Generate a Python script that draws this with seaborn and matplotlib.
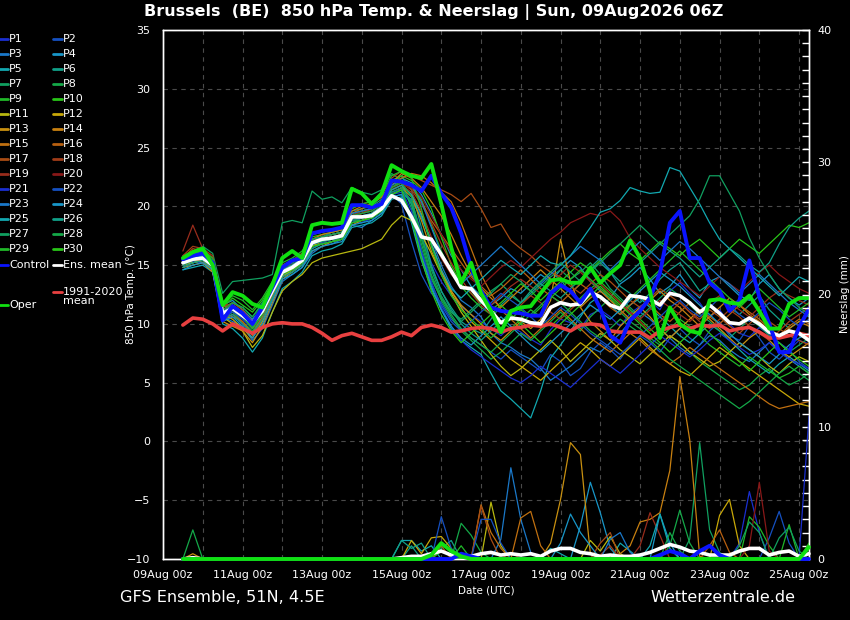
import numpy as np
import pandas as pd
import matplotlib
matplotlib.use("Agg")
import matplotlib.pyplot as plt
import matplotlib.dates as mdates
from matplotlib.lines import Line2D
from matplotlib.ticker import MultipleLocator, FixedLocator
import seaborn as sns

# ---------------- time axis (6-hourly steps, 09Aug 12z .. 25Aug 06z) -------------
times = pd.date_range("2026-08-09 12:00", periods=64, freq="6h")

# ---------------- 850 hPa temperature (deg C) ----------------
t_ctrl = [15.5, 15.8,
          16.0, 15.2, 10.3, 11.5,  10.9, 10.0, 11.4, 13.1,  14.8, 15.4, 15.6, 17.7,
          17.9, 18.0, 18.2, 20.1,  20.1, 19.9, 20.2, 22.2,  22.1, 21.8, 21.3, 22.6,
          21.1, 19.9, 17.7, 14.8,  12.8, 11.4, 11.1, 11.0,  10.9, 10.7, 10.7, 12.6,
          13.3, 12.8, 11.8, 13.0,  11.3, 9.0, 8.4, 10.3,    11.1, 12.2, 14.3, 18.6,
          19.6, 15.6, 15.6, 13.5,  12.8, 11.1, 12.0, 15.4,  12.3, 10.0, 7.6, 7.6,
          9.7, 11.3]
t_oper = [15.6, 16.1,
          16.4, 15.0, 11.6, 12.7,  12.4, 11.7, 11.4, 13.3,  15.6, 16.2, 15.6, 18.4,
          18.6, 18.5, 18.6, 21.5,  21.1, 20.2, 21.1, 23.5,  23.0, 22.6, 22.4, 23.6,
          20.2, 16.5, 13.5, 15.2,  12.6, 11.1, 9.3, 11.1,   11.4, 11.5, 12.6, 13.7,
          13.8, 13.5, 13.5, 14.8,  13.5, 14.3, 15.0, 17.1,  15.6, 12.8, 8.8, 11.4,
          10.0, 9.4, 9.2, 12.0,    12.1, 11.8, 11.7, 12.4,  11.1, 9.6, 9.6, 11.7,
          12.2, 12.2]
t_mean = [15.2, 15.5,
          15.6, 15.0, 10.9, 11.3,  10.7, 10.1, 11.1, 12.8,  14.4, 14.8, 15.4, 16.9,
          17.2, 17.3, 17.5, 19.1,  19.1, 19.2, 19.8, 20.9,  20.5, 19.1, 17.4, 17.2,
          15.9, 14.5, 13.1, 13.0,  12.0, 11.1, 10.1, 10.5,  10.4, 10.1, 10.0, 11.4,
          11.8, 11.6, 11.7, 12.7,  12.3, 11.6, 11.3, 12.4,  12.3, 12.1, 11.6, 12.6,
          12.4, 11.8, 11.0, 11.6,  10.9, 10.1, 10.0, 10.5,  10.0, 9.3, 9.0, 9.4,
          9.2, 8.6]
t_clim = [9.9, 10.5,
          10.4, 10.0, 9.4, 10.0,   9.6, 9.2, 9.7, 10.0,    10.1, 10.0, 10.0, 9.7,
          9.2, 8.6, 9.0, 9.2,      8.9, 8.6, 8.6, 8.9,     9.3, 9.0, 9.7, 9.9,
          9.7, 9.3, 9.4, 9.6,      9.7, 9.6, 9.3, 9.6,     9.7, 9.9, 9.8, 10.0,
          9.7, 9.4, 9.9, 10.0,     9.9, 9.4, 9.3, 9.3,     9.3, 8.8, 9.4, 9.7,
          9.9, 9.6, 9.9, 9.8,      9.9, 9.4, 9.6, 9.7,     9.3, 8.8, 8.8, 9.0,
          9.2, 9.0]

t_p01 = [15.0, 15.3, 15.2, 14.6, 10.2, 10.8, 10.0, 9.1, 10.3, 12.2, 14.0, 14.6, 15.0, 16.4,
         16.9, 17.0, 17.4, 18.8, 18.6, 19.0, 19.6, 21.2, 21.6, 20.5, 17.8, 15.2, 13.6, 12.4, 11.5, 10.8,
         10.2, 9.6, 9.0, 9.8, 9.3, 8.7, 8.2, 9.5, 10.4, 10.1, 9.6, 10.8, 11.2, 10.6, 9.8, 10.9,
         11.5, 12.0, 11.2, 12.8, 13.5, 12.6, 11.8, 10.6, 11.2, 10.0, 9.2, 8.9, 9.7, 9.1, 8.4, 7.8, 8.6, 8.3]
t_p02 = [15.6, 16.0, 16.2, 15.4, 11.2, 11.0, 10.4, 9.8, 11.0, 12.6, 14.6, 15.0, 15.6, 16.8,
         17.0, 17.4, 17.2, 18.6, 19.0, 19.4, 20.0, 21.0, 20.2, 17.0, 14.2, 12.6, 11.8, 10.4, 9.6, 8.8,
         8.2, 7.6, 7.0, 7.8, 7.2, 6.6, 6.0, 7.4, 6.8, 5.6, 6.2, 7.6, 8.4, 7.8, 7.0, 8.2,
         9.0, 8.4, 7.6, 8.8, 9.6, 8.8, 8.2, 9.4, 10.2, 9.0, 8.6, 9.8, 8.8, 7.6, 7.0, 7.8, 6.8, 6.2]
t_p03 = [14.8, 15.2, 15.4, 14.8, 10.6, 10.2, 9.8, 8.6, 9.6, 11.6, 13.6, 14.2, 14.8, 16.0,
         16.6, 16.8, 17.2, 18.4, 18.2, 18.8, 19.4, 20.8, 21.0, 20.6, 19.0, 17.2, 15.0, 13.2, 12.0, 11.4,
         10.6, 9.2, 8.4, 8.0, 7.4, 7.0, 6.2, 5.2, 5.8, 6.4, 7.2, 8.0, 7.6, 8.4, 9.2, 10.2,
         11.0, 10.4, 9.6, 8.8, 8.0, 7.4, 8.2, 9.0, 8.6, 7.8, 7.2, 6.8, 7.6, 8.4, 7.8, 7.0, 6.4, 5.8]
t_p04 = [15.4, 15.8, 15.6, 15.2, 11.6, 12.0, 11.2, 10.4, 11.4, 12.8, 14.2, 14.4, 15.2, 16.6,
         17.4, 17.6, 17.8, 19.2, 19.6, 19.8, 20.4, 21.8, 22.4, 22.0, 21.0, 19.4, 17.6, 15.8, 14.6, 13.2,
         12.4, 11.6, 12.2, 13.0, 12.6, 13.4, 14.2, 13.6, 14.6, 15.4, 14.8, 13.6, 12.8, 12.2, 13.4, 14.0,
         14.8, 13.8, 12.6, 13.2, 14.2, 13.0, 12.2, 13.6, 14.0, 13.2, 12.4, 12.0, 13.4, 14.2, 13.0, 12.2, 11.6, 12.2]
t_p05 = [14.6, 14.8, 15.0, 14.4, 10.0, 9.6, 8.8, 7.6, 8.8, 11.0, 13.0, 13.6, 14.4, 15.8,
         16.2, 16.4, 16.8, 18.2, 18.4, 18.6, 19.2, 20.6, 20.8, 18.6, 15.4, 13.0, 11.2, 9.6, 8.6, 8.0,
         7.4, 5.8, 4.3, 3.6, 2.8, 2.0, 4.3, 7.1, 8.2, 9.4, 10.6, 11.8, 12.4, 11.6, 10.8, 11.6,
         12.2, 11.4, 10.6, 9.8, 9.0, 8.4, 9.2, 10.0, 9.4, 8.6, 7.8, 7.0, 6.4, 5.8, 6.6, 7.2, 6.6, 6.0]
t_p06 = [15.2, 15.6, 15.8, 15.2, 11.0, 11.8, 11.4, 10.6, 11.8, 13.2, 14.8, 15.2, 15.8, 17.2,
         17.4, 17.8, 18.0, 19.6, 19.8, 20.0, 20.6, 22.2, 22.6, 21.4, 18.2, 15.0, 12.8, 11.4, 10.2, 9.6,
         9.2, 10.4, 11.6, 12.4, 11.8, 12.8, 13.6, 14.4, 13.8, 12.6, 13.4, 14.8, 15.6, 14.4, 13.2, 12.6,
         11.8, 12.6, 13.8, 14.6, 15.2, 14.0, 12.8, 13.4, 12.6, 11.4, 10.8, 11.6, 12.4, 11.2, 10.4, 9.6, 10.2, 10.8]
t_p07 = [15.8, 16.2, 16.6, 16.0, 12.6, 13.6, 13.7, 13.8, 13.9, 14.2, 18.6, 18.8, 18.6, 21.3,
         20.6, 20.8, 20.3, 21.6, 21.2, 21.0, 21.4, 22.8, 22.2, 19.8, 16.4, 13.8, 12.2, 11.0, 10.4, 11.2,
         12.0, 12.8, 13.4, 12.6, 11.8, 12.4, 13.2, 14.0, 14.6, 13.8, 14.4, 15.2, 14.2, 13.0, 12.2, 11.4,
         10.6, 11.4, 12.2, 13.0, 12.4, 11.6, 10.8, 10.2, 9.4, 8.8, 9.6, 10.4, 9.8, 9.0, 8.4, 7.6, 8.2, 8.8]
t_p08 = [15.0, 15.2, 15.4, 14.8, 10.4, 11.0, 10.2, 9.4, 10.6, 12.4, 14.0, 14.4, 15.2, 16.6,
         16.8, 17.0, 17.4, 18.8, 18.8, 19.0, 19.8, 21.4, 21.8, 20.2, 16.8, 14.0, 12.0, 10.6, 9.4, 8.6,
         7.8, 7.0, 7.6, 8.4, 9.2, 8.6, 9.4, 10.2, 11.0, 10.2, 9.4, 10.6, 11.4, 12.2, 11.0, 10.2,
         9.6, 8.8, 8.2, 9.0, 8.4, 7.6, 6.8, 6.2, 5.6, 5.0, 4.4, 4.8, 5.6, 6.2, 5.4, 4.8, 5.2, 5.8]
t_p09 = [15.4, 15.8, 16.0, 15.0, 10.8, 11.4, 10.6, 9.8, 11.0, 12.8, 14.6, 15.0, 15.4, 17.0,
         17.2, 17.4, 17.6, 19.0, 19.4, 19.6, 20.2, 21.6, 22.2, 21.8, 20.6, 18.4, 16.2, 14.4, 13.2, 12.2,
         11.4, 10.8, 10.2, 9.6, 10.4, 11.2, 10.6, 9.8, 10.6, 11.4, 12.2, 13.0, 13.6, 12.8, 12.0, 11.2,
         10.4, 9.6, 8.8, 9.6, 10.4, 9.8, 9.0, 8.2, 7.6, 7.0, 6.4, 7.2, 6.6, 6.0, 5.4, 5.8, 6.4, 5.8]
t_p10 = [15.6, 16.0, 16.2, 15.6, 11.4, 12.2, 11.6, 11.0, 12.0, 13.4, 15.0, 15.4, 16.0, 17.4,
         17.6, 17.8, 18.0, 19.4, 19.6, 19.8, 20.4, 22.0, 22.6, 22.2, 21.4, 19.8, 17.4, 15.0, 13.4, 12.6,
         11.8, 11.2, 11.8, 12.6, 13.4, 12.8, 12.0, 12.8, 13.6, 14.4, 15.2, 14.6, 15.4, 16.2, 16.8, 16.0,
         15.4, 16.2, 17.0, 16.4, 15.8, 16.6, 17.2, 16.4, 15.6, 16.4, 17.2, 16.6, 16.0, 16.8, 17.6, 18.4, 18.2, 18.6]
t_p11 = [15.0, 15.2, 15.4, 14.6, 10.6, 10.0, 9.4, 8.0, 9.0, 11.0, 12.8, 13.6, 14.2, 15.2,
         15.6, 15.8, 16.0, 16.2, 16.4, 16.8, 17.2, 18.4, 19.2, 18.8, 17.6, 16.0, 14.2, 12.6, 11.0, 9.8,
         8.6, 7.4, 6.4, 5.6, 6.2, 7.0, 7.8, 8.6, 7.8, 6.8, 7.6, 8.4, 9.2, 8.6, 7.8, 7.2,
         6.6, 7.4, 8.2, 9.0, 8.4, 7.6, 7.0, 6.4, 6.8, 7.6, 8.4, 7.8, 7.2, 6.4, 5.8, 6.6, 7.2, 6.8]
t_p12 = [15.2, 15.6, 15.8, 15.0, 10.8, 10.4, 9.6, 8.8, 10.2, 12.2, 14.0, 14.6, 15.2, 16.6,
         17.0, 17.2, 17.4, 18.8, 19.0, 19.4, 20.0, 21.4, 21.8, 21.0, 19.4, 16.8, 14.6, 12.8, 11.4, 10.2,
         9.4, 8.6, 7.8, 7.0, 6.4, 5.8, 5.2, 6.0, 6.8, 7.6, 8.4, 7.8, 7.0, 6.4, 7.2, 8.0,
         8.8, 8.0, 7.2, 6.6, 6.0, 5.6, 6.4, 7.2, 8.0, 7.4, 6.8, 6.2, 5.6, 5.0, 4.4, 3.8, 3.2, 3.0]
t_p13 = [14.8, 15.0, 15.2, 14.4, 10.2, 9.8, 9.4, 8.4, 9.8, 11.8, 13.8, 14.4, 15.0, 16.2,
         16.6, 17.0, 17.2, 18.4, 18.8, 19.2, 19.6, 21.0, 21.6, 20.8, 18.8, 16.2, 14.4, 12.8, 11.6, 10.8,
         10.0, 9.2, 8.6, 9.4, 10.2, 9.6, 10.4, 12.0, 17.2, 13.6, 11.4, 10.2, 9.4, 8.6, 9.8, 10.6,
         11.4, 10.6, 9.6, 8.8, 9.6, 10.4, 11.2, 10.4, 9.6, 8.8, 8.0, 8.8, 9.4, 8.6, 7.8, 7.2, 7.8, 8.4]
t_p14 = [15.6, 16.2, 16.0, 15.4, 11.6, 11.2, 10.8, 9.8, 11.2, 13.0, 14.8, 15.2, 15.8, 17.2,
         17.6, 17.8, 18.0, 19.6, 20.0, 20.2, 20.8, 22.0, 22.8, 22.4, 21.6, 20.4, 19.2, 17.6, 15.8, 14.2,
         13.0, 12.2, 11.4, 12.2, 13.0, 13.8, 14.6, 13.8, 13.0, 12.2, 11.4, 12.2, 12.8, 12.0, 11.2, 10.4,
         11.2, 12.0, 12.8, 12.0, 11.4, 10.6, 9.8, 10.6, 11.4, 12.2, 11.6, 10.8, 10.2, 9.4, 8.8, 9.6, 10.2, 9.8]
t_p15 = [15.2, 15.8, 15.6, 15.0, 11.0, 10.6, 10.2, 9.2, 10.6, 12.6, 14.4, 14.8, 15.6, 17.0,
         17.4, 17.6, 17.8, 19.4, 19.8, 20.2, 20.8, 21.8, 22.4, 22.8, 22.6, 22.0, 21.2, 20.4, 18.6, 16.4,
         14.2, 12.6, 11.2, 10.4, 9.6, 8.8, 9.6, 10.4, 11.2, 10.4, 9.6, 8.8, 8.2, 7.6, 8.4, 9.2,
         8.6, 7.8, 7.2, 6.6, 7.2, 8.0, 7.4, 6.8, 6.2, 5.6, 5.0, 4.4, 3.8, 3.2, 2.8, 3.0, 3.2, 3.4]
t_p16 = [15.0, 15.4, 15.4, 14.8, 10.4, 10.8, 10.2, 9.0, 10.4, 12.4, 14.2, 14.8, 15.4, 16.8,
         17.2, 17.4, 17.6, 19.0, 19.4, 19.8, 20.4, 21.6, 22.0, 21.6, 20.4, 18.8, 17.6, 16.4, 15.2, 14.0,
         13.2, 12.4, 13.0, 13.8, 14.6, 13.8, 13.0, 12.4, 11.8, 12.6, 13.4, 12.8, 12.2, 11.4, 10.8, 11.6,
         12.4, 11.6, 10.8, 10.2, 11.0, 11.8, 11.2, 10.6, 10.0, 10.8, 11.6, 11.0, 10.4, 9.6, 9.0, 9.8, 10.4, 10.0]
t_p17 = [15.6, 16.4, 16.2, 15.6, 11.4, 11.8, 11.2, 10.2, 11.4, 13.2, 15.0, 15.4, 16.0, 17.6,
         17.8, 18.0, 18.2, 19.8, 20.2, 20.4, 21.0, 22.4, 23.0, 22.6, 22.2, 21.8, 21.4, 21.0, 20.4, 21.1,
         19.8, 18.2, 18.5, 17.1, 16.4, 15.8, 15.0, 14.4, 14.0, 13.2, 12.6, 13.4, 14.2, 13.6, 12.8, 12.0,
         11.4, 12.2, 13.0, 12.4, 11.8, 11.0, 10.4, 11.2, 10.6, 9.8, 9.2, 10.0, 10.8, 10.2, 9.6, 9.0, 8.6, 8.2]
t_p18 = [15.8, 16.6, 16.4, 15.8, 11.8, 11.4, 10.6, 9.6, 10.8, 12.8, 14.6, 15.0, 15.6, 17.0,
         17.2, 17.4, 17.6, 19.2, 19.4, 19.8, 20.2, 21.6, 22.0, 21.4, 20.2, 18.6, 16.8, 15.2, 13.8, 12.6,
         11.6, 10.8, 10.0, 10.8, 11.6, 12.4, 11.8, 11.0, 10.4, 11.2, 12.0, 12.8, 13.4, 12.6, 11.8, 11.0,
         10.2, 9.4, 10.2, 11.0, 11.8, 11.0, 10.2, 9.6, 10.4, 11.2, 10.6, 9.8, 9.2, 8.6, 9.4, 10.2, 10.8, 11.4]
t_p19 = [16.2, 18.4, 16.4, 15.6, 11.2, 11.6, 11.0, 10.0, 11.2, 13.0, 14.8, 15.2, 15.8, 17.2,
         17.4, 17.6, 17.8, 19.2, 19.6, 19.8, 20.4, 21.4, 21.8, 21.2, 19.6, 17.4, 15.6, 14.2, 13.2, 12.8,
         12.2, 11.6, 12.4, 13.2, 13.8, 13.2, 12.6, 13.4, 14.2, 15.0, 14.4, 13.6, 13.0, 12.4, 11.6, 11.0,
         10.4, 11.2, 12.0, 11.4, 10.8, 10.2, 11.0, 11.8, 12.4, 11.8, 11.2, 10.6, 11.4, 12.2, 12.8, 12.4, 12.0, 11.6]
t_p20 = [15.4, 15.8, 16.0, 15.4, 11.0, 11.4, 10.8, 9.8, 11.0, 12.8, 14.6, 15.0, 15.6, 17.0,
         17.2, 17.4, 17.6, 19.2, 19.4, 19.6, 20.2, 21.4, 21.8, 21.6, 20.8, 19.2, 17.6, 16.0, 14.6, 13.8,
         13.2, 14.0, 14.8, 15.4, 14.8, 15.6, 16.4, 17.2, 17.8, 18.6, 19.0, 19.4, 19.2, 19.6, 18.8, 17.3,
         16.4, 15.6, 14.8, 14.2, 13.6, 13.0, 12.4, 13.2, 14.0, 13.4, 12.8, 13.6, 14.4, 15.0, 14.2, 13.6, 13.0, 12.6]
t_p21 = [15.2, 15.6, 15.8, 15.2, 10.8, 11.2, 10.4, 9.6, 10.8, 12.6, 14.4, 14.8, 15.4, 16.8,
         17.0, 17.2, 17.4, 18.8, 19.0, 19.2, 19.8, 21.2, 21.4, 19.6, 16.2, 13.6, 11.4, 9.8, 8.6, 7.8,
         7.2, 6.6, 6.0, 5.4, 5.0, 5.6, 6.4, 5.8, 5.2, 4.6, 5.4, 6.2, 7.0, 6.4, 5.8, 6.6,
         7.4, 8.2, 9.0, 8.4, 7.8, 7.2, 7.8, 8.6, 9.2, 8.6, 8.0, 7.4, 7.8, 8.4, 7.6, 7.0, 6.6, 6.2]
t_p22 = [15.0, 15.4, 15.6, 15.0, 10.6, 11.0, 10.6, 9.8, 11.0, 12.6, 14.4, 14.8, 15.4, 16.8,
         17.0, 17.2, 17.4, 18.8, 19.0, 19.2, 19.8, 21.0, 21.2, 19.2, 16.0, 13.4, 11.6, 10.2, 9.4, 10.2,
         11.0, 11.8, 12.6, 12.0, 11.4, 10.6, 9.8, 10.6, 11.4, 10.8, 10.0, 9.2, 8.6, 8.0, 7.4, 8.2,
         9.0, 9.8, 10.6, 11.4, 12.0, 11.2, 10.6, 11.4, 12.2, 11.6, 10.8, 10.2, 11.0, 11.8, 11.2, 10.4, 9.8, 10.4]
t_p23 = [15.4, 15.8, 16.0, 15.2, 11.0, 11.6, 11.0, 10.2, 11.4, 13.0, 14.8, 15.2, 15.8, 17.2,
         17.4, 17.6, 17.8, 19.4, 19.6, 19.8, 20.4, 21.8, 22.2, 21.8, 20.4, 18.2, 16.0, 14.4, 13.4, 14.2,
         15.0, 15.8, 16.6, 15.8, 15.0, 14.2, 13.4, 14.2, 15.0, 15.8, 16.6, 16.0, 15.4, 14.6, 15.4, 16.2,
         17.0, 16.2, 15.4, 16.2, 17.0, 16.4, 15.6, 14.8, 14.0, 13.4, 12.6, 13.4, 14.2, 13.4, 12.6, 11.8, 11.2, 10.6]
t_p24 = [14.6, 15.0, 15.2, 14.6, 10.2, 10.6, 9.8, 8.8, 10.0, 12.0, 13.8, 14.2, 14.8, 16.2,
         16.6, 16.8, 17.0, 18.4, 18.6, 18.8, 19.4, 20.8, 21.0, 19.0, 15.8, 13.2, 11.2, 9.8, 8.8, 8.2,
         9.0, 9.8, 10.6, 9.8, 9.0, 8.2, 7.6, 8.4, 9.2, 10.0, 10.8, 11.6, 11.0, 10.4, 11.2, 12.0,
         12.8, 13.6, 14.4, 13.8, 13.2, 12.4, 11.6, 10.8, 10.0, 9.2, 8.4, 7.8, 7.2, 6.6, 7.4, 8.2, 8.8, 9.2]
t_p25 = [15.2, 15.6, 15.8, 15.0, 11.0, 11.6, 11.0, 10.0, 11.2, 12.8, 14.6, 15.0, 15.6, 17.0,
         17.2, 17.4, 17.6, 19.0, 19.2, 19.4, 20.0, 21.4, 21.8, 21.0, 19.2, 16.8, 14.6, 13.0, 12.2, 13.0,
         13.8, 14.6, 15.4, 14.8, 14.2, 15.0, 15.8, 15.2, 15.0, 15.8, 17.0, 18.2, 19.5, 19.8, 20.5, 21.6,
         21.3, 21.1, 21.2, 23.3, 23.0, 21.6, 20.2, 18.6, 17.2, 16.4, 15.6, 14.8, 14.0, 13.2, 12.4, 13.2, 14.0, 13.6]
t_p26 = [14.8, 15.2, 15.4, 14.8, 10.4, 10.8, 10.0, 9.2, 10.4, 12.2, 14.0, 14.4, 15.0, 16.4,
         16.8, 17.0, 17.2, 18.6, 18.8, 19.0, 19.6, 21.0, 21.4, 20.2, 17.4, 14.8, 12.8, 11.2, 10.0, 9.2,
         8.6, 9.4, 10.2, 11.0, 11.8, 12.6, 13.4, 12.8, 12.2, 13.0, 13.8, 14.6, 15.2, 14.4, 13.6, 14.4,
         15.2, 16.0, 16.8, 16.2, 15.6, 14.8, 14.0, 14.8, 15.6, 16.4, 15.8, 15.0, 14.4, 15.2, 16.8, 18.2, 19.0, 19.6]
t_p27 = [15.0, 15.4, 15.6, 15.0, 10.8, 11.4, 10.8, 9.8, 11.0, 12.8, 14.4, 14.8, 15.4, 16.8,
         17.0, 17.2, 17.4, 18.8, 19.0, 19.2, 19.8, 21.2, 21.6, 20.4, 17.6, 14.6, 12.4, 11.0, 10.2, 11.0,
         11.8, 12.6, 13.4, 14.2, 13.6, 12.8, 13.6, 14.4, 15.2, 14.4, 13.6, 14.4, 15.2, 16.0, 16.8, 17.6,
         18.4, 17.6, 16.8, 17.6, 18.4, 19.2, 20.6, 22.6, 22.6, 21.1, 19.6, 17.3, 15.6, 14.2, 13.0, 12.2, 11.4, 10.8]
t_p28 = [15.4, 15.8, 16.0, 15.4, 11.2, 11.8, 11.4, 10.6, 11.6, 13.2, 14.8, 15.2, 15.8, 17.2,
         17.4, 17.6, 17.8, 19.2, 19.4, 19.6, 20.2, 21.6, 22.0, 20.8, 17.2, 14.2, 12.2, 10.8, 9.6, 8.8,
         8.2, 7.6, 8.4, 9.2, 10.0, 10.8, 11.6, 12.4, 11.8, 11.0, 10.2, 9.4, 8.8, 9.6, 10.4, 9.8,
         9.2, 8.6, 7.8, 7.0, 6.4, 5.8, 5.2, 4.6, 4.0, 3.4, 2.8, 3.4, 4.2, 5.0, 5.8, 6.4, 5.8, 5.2]
t_p29 = [15.6, 16.0, 16.2, 15.6, 11.6, 12.4, 12.0, 11.2, 12.2, 13.6, 15.2, 15.6, 16.2, 17.6,
         17.8, 18.0, 18.2, 19.8, 20.2, 20.4, 21.0, 22.6, 23.0, 22.4, 19.8, 16.6, 14.2, 12.4, 11.2, 10.4,
         9.6, 8.8, 9.6, 10.4, 11.2, 10.6, 11.4, 12.2, 13.0, 13.8, 14.6, 13.8, 13.0, 12.2, 11.4, 12.2,
         13.0, 13.8, 14.6, 15.4, 16.2, 15.4, 14.6, 13.8, 13.0, 12.2, 11.4, 12.2, 13.0, 12.2, 11.4, 10.6, 11.2, 11.8]
t_p30 = [15.2, 15.4, 15.6, 15.0, 10.6, 11.2, 10.6, 9.6, 10.8, 12.6, 14.2, 14.6, 15.2, 16.6,
         16.8, 17.0, 17.2, 18.6, 18.8, 19.0, 19.6, 21.0, 21.4, 19.0, 15.6, 12.8, 10.8, 9.4, 8.4, 9.2,
         10.0, 10.8, 11.6, 10.8, 10.0, 9.2, 8.4, 9.2, 10.0, 10.8, 11.6, 12.4, 13.2, 12.4, 11.6, 10.8,
         10.0, 9.2, 8.4, 7.6, 8.4, 9.2, 10.0, 9.2, 8.4, 7.6, 6.8, 6.0, 6.8, 7.6, 8.4, 7.6, 7.0, 6.4]

# ---------------- precipitation (mm per 6 h), {step: mm}, other steps 0 ----------
r_ctrl = {28: 0.4, 29: 0.2, 48: 0.3, 49: 0.6, 50: 0.4, 52: 0.6, 53: 1.0, 54: 0.3}
r_oper = {25: 0.3, 26: 1.2, 27: 0.6, 28: 0.2, 63: 0.9}
r_mean = {1: 0.1, 22: 0.1, 23: 0.2, 24: 0.2, 25: 0.4, 26: 0.6, 27: 0.3, 28: 0.3, 29: 0.2,
          30: 0.4, 31: 0.5, 32: 0.3, 33: 0.4, 34: 0.3, 35: 0.4, 36: 0.2, 37: 0.6, 38: 0.8,
          39: 0.8, 40: 0.5, 41: 0.4, 42: 0.2, 43: 0.3, 44: 0.2, 45: 0.2, 46: 0.3, 47: 0.5,
          48: 0.8, 49: 1.1, 50: 0.9, 51: 0.6, 52: 0.5, 53: 0.3, 54: 0.3, 55: 0.3, 56: 0.6,
          57: 0.8, 58: 0.8, 59: 0.3, 60: 0.5, 61: 0.6, 62: 0.2, 63: 0.4}
r_p01 = {56: 1.2, 57: 5.1, 58: 2.0}
r_p02 = {59: 1.6, 60: 3.6, 61: 1.2}
r_p03 = {32: 1.5, 33: 6.9, 34: 3.0, 35: 0.5}
r_p04 = {40: 2.5, 41: 5.8, 42: 3.5, 43: 0.8}
r_p05 = {22: 1.4, 23: 1.4, 24: 0.6, 25: 1.0, 44: 1.2, 45: 0.6}
r_p06 = {23: 1.0, 26: 0.8, 27: 1.4}
r_p07 = {51: 1.5, 52: 8.8, 53: 2.2, 54: 0.5}
r_p08 = {1: 2.2, 28: 2.7, 29: 1.8, 30: 0.5, 49: 1.0, 50: 3.7, 51: 1.2}
r_p09 = {57: 3.2, 58: 2.4, 59: 1.0, 61: 2.6}
r_p10 = {63: 1.2}
r_p11 = {31: 4.3, 32: 1.0, 41: 1.4, 42: 0.6, 43: 1.7, 44: 0.4}
r_p12 = {23: 1.4, 24: 0.4, 25: 1.6, 26: 1.7, 27: 0.8, 54: 3.3, 55: 4.5, 56: 1.0}
r_p13 = {1: 0.4, 37: 1.2, 38: 4.5, 39: 8.8, 40: 7.9, 41: 0.4}
r_p14 = {44: 0.4, 45: 1.0, 46: 2.8, 47: 3.0, 48: 3.5, 49: 6.7, 50: 13.8, 51: 9.0, 52: 0.2}
r_p15 = {30: 4.1, 31: 2.0, 32: 0.8, 34: 3.1, 35: 3.6, 36: 1.0}
r_p16 = {26: 1.0, 53: 1.0, 54: 2.2, 55: 0.5}
r_p17 = {30: 4.0, 31: 1.5, 42: 1.2, 43: 2.0}
r_p18 = {42: 0.3, 43: 1.0}
r_p19 = {33: 0.5, 46: 1.0, 47: 3.5, 48: 1.8}
r_p20 = {57: 1.0, 58: 5.8, 59: 0.6}
r_p21 = {62: 0.1, 63: 10.8}
r_p22 = {26: 3.2, 27: 0.8, 30: 3.0, 31: 3.0, 32: 1.2}
r_p23 = {43: 1.5, 44: 2.0, 45: 0.5}
r_p24 = {38: 1.2, 39: 3.4, 40: 2.0, 41: 1.0, 48: 3.4, 49: 1.2}
r_p25 = {37: 0.8, 38: 0.4, 47: 1.0, 48: 3.4, 49: 0.8}
r_p26 = {22: 1.4, 23: 0.8, 24: 1.2}
r_p27 = {56: 1.0, 57: 2.8, 58: 2.0, 60: 1.6, 61: 2.4, 62: 0.6}
r_p28 = {49: 2.0, 50: 0.6}
r_p29 = {28: 1.0}
r_p30 = {26: 0.6, 27: 0.3}

member_colors = ["#1a2fd0", "#1550c0", "#1a78c8", "#1896c8", "#12a8b0",
                 "#10a088", "#10a060", "#14a848", "#20b828", "#28c418",
                 "#b8b810", "#c8a808", "#c89010", "#c88010", "#c07010",
                 "#b86010", "#a84c14", "#a03c18", "#982c1c", "#881818"]

temps = [t_p01, t_p02, t_p03, t_p04, t_p05, t_p06, t_p07, t_p08, t_p09, t_p10,
         t_p11, t_p12, t_p13, t_p14, t_p15, t_p16, t_p17, t_p18, t_p19, t_p20,
         t_p21, t_p22, t_p23, t_p24, t_p25, t_p26, t_p27, t_p28, t_p29, t_p30]
rains = [r_p01, r_p02, r_p03, r_p04, r_p05, r_p06, r_p07, r_p08, r_p09, r_p10,
         r_p11, r_p12, r_p13, r_p14, r_p15, r_p16, r_p17, r_p18, r_p19, r_p20,
         r_p21, r_p22, r_p23, r_p24, r_p25, r_p26, r_p27, r_p28, r_p29, r_p30]
for k, t in enumerate(temps + [t_ctrl, t_oper, t_mean, t_clim]):
    if len(t) != 64:
        raise ValueError(f"series {k} has {len(t)} values")


def full_rain(d):
    arr = np.zeros(len(times))
    for k, v in d.items():
        arr[k] = v
    return arr


# ---------------- figure ----------------
sns.set_theme(style="dark")
plt.rcParams["font.family"] = ["DejaVu Sans"]
plt.rcParams["ytick.direction"] = "in"
plt.rcParams["ytick.minor.visible"] = False
W, H = 850, 620
fig = plt.figure(figsize=(8.5, 6.2), dpi=100, facecolor="black")
ax = fig.add_axes([163 / W, 61 / H, 646 / W, 529 / H])
ax.set_facecolor("black")
ax2 = ax.twinx()
ax2.patch.set_visible(False)

TW = 0.9
for i, t in enumerate(temps):
    sns.lineplot(x=times, y=t, color=member_colors[i % 20], linewidth=TW, ax=ax,
                 legend=False, errorbar=None, zorder=2)
sns.lineplot(x=times, y=t_clim, color="#e84040", linewidth=2.6, ax=ax, legend=False,
             errorbar=None, zorder=3)
sns.lineplot(x=times, y=t_mean, color="white", linewidth=2.6, ax=ax, legend=False,
             errorbar=None, zorder=4)
sns.lineplot(x=times, y=t_ctrl, color="#0a14ff", linewidth=2.8, ax=ax, legend=False,
             errorbar=None, zorder=5)
sns.lineplot(x=times, y=t_oper, color="#10e010", linewidth=2.8, ax=ax, legend=False,
             errorbar=None, zorder=6)

for i, r in enumerate(rains):
    sns.lineplot(x=times, y=full_rain(r), color=member_colors[i % 20], linewidth=TW,
                 ax=ax2, legend=False, errorbar=None, zorder=2)
sns.lineplot(x=times, y=full_rain(r_mean), color="white", linewidth=2.6, ax=ax2,
             legend=False, errorbar=None, zorder=4)
sns.lineplot(x=times, y=full_rain(r_ctrl), color="#0a14ff", linewidth=2.8, ax=ax2,
             legend=False, errorbar=None, zorder=5)
sns.lineplot(x=times, y=full_rain(r_oper), color="#10e010", linewidth=2.8, ax=ax2,
             legend=False, errorbar=None, zorder=6)
for ln in ax2.lines:
    ln.set_clip_on(False)

# axes limits and ticks
ax.set_xlim(pd.Timestamp("2026-08-09 00:00"), pd.Timestamp("2026-08-25 06:00"))
ax.set_ylim(-10, 35)
ax2.set_ylim(0, 40)
ax.xaxis.set_major_locator(FixedLocator(mdates.date2num(
    pd.date_range("2026-08-09", "2026-08-25", freq="2D"))))
ax.xaxis.set_minor_locator(FixedLocator(mdates.date2num(
    pd.date_range("2026-08-10", "2026-08-24", freq="2D"))))
ax.xaxis.set_major_formatter(mdates.DateFormatter("%d%b %Hz"))
ax.yaxis.set_major_locator(MultipleLocator(5))
ax2.yaxis.set_major_locator(MultipleLocator(10))
ax2.yaxis.set_minor_locator(MultipleLocator(1))

grid_kw = dict(color="#4a4a4a", linestyle=(0, (4, 4)), linewidth=0.8)
ax.grid(True, which="both", axis="x", **grid_kw)
ax.grid(True, which="major", axis="y", **grid_kw)
ax2.grid(False)

ax.tick_params(axis="x", which="both", length=0, pad=8, labelsize=8, colors="white")
ax.tick_params(axis="y", which="both", length=0, pad=9, labelsize=8, colors="white")
ax2.yaxis.set_tick_params(which="both", direction="in", length=5, width=1,
                          color="white", left=False, right=True)
ax2.yaxis.set_tick_params(which="major", pad=6, labelsize=8, labelcolor="white")

for a in (ax, ax2):
    for s in a.spines.values():
        s.set_color("white")
        s.set_linewidth(1.0)
        s.set_visible(True)

ax.set_xlabel("Date (UTC)", color="white", fontsize=7.5, labelpad=4)
fig.text(131 / W, 1 - 294 / H, "850 hPa Temp. (°C)", color="white", fontsize=7.5,
         rotation=90, ha="center", va="center")
ax2.set_ylabel("Neerslag (mm)", color="white", fontsize=7.5, labelpad=6)

# title and footer
fig.text(434 / W, 1 - 12 / H, "Brussels  (BE)  850 hPa Temp. & Neerslag | Sun, 09Aug2026 06Z",
         color="white", fontsize=11.5, fontweight="bold", ha="center", va="center")
fig.text(120 / W, 1 - 598 / H, "GFS Ensemble, 51N, 4.5E", color="white", fontsize=11.6,
         ha="left", va="center")
fig.text(650 / W, 1 - 598 / H, "Wetterzentrale.de", color="white", fontsize=11.5,
         ha="left", va="center")

# legend (drawn in figure pixels)
def leg_entry(x0, y, color, label, lw=2.0):
    fig.add_artist(Line2D([x0 / W, (x0 + 9) / W], [1 - y / H, 1 - y / H],
                          transform=fig.transFigure, color=color, linewidth=lw))
    fig.text((x0 + 10) / W, 1 - y / H, label, color="white", fontsize=8,
             ha="left", va="center")

for k in range(15):
    y = 39 + 15 * k
    leg_entry(-1, y, member_colors[(2 * k) % 20], f"P{2 * k + 1}")
    leg_entry(53, y, member_colors[(2 * k + 1) % 20], f"P{2 * k + 2}")
leg_entry(-1, 265, "#0a14ff", "Control")
leg_entry(53, 265, "white", "Ens. mean")
leg_entry(-1, 305, "#10e010", "Oper")
fig.add_artist(Line2D([53 / W, 62 / W], [1 - 292 / H, 1 - 292 / H],
                      transform=fig.transFigure, color="#e84040", linewidth=2.0))
fig.text(63 / W, 1 - 287 / H, "1991-2020\nmean", color="white", fontsize=8,
         ha="left", va="top", linespacing=0.9)

fig.savefig("out.png", dpi=100, facecolor="black")
